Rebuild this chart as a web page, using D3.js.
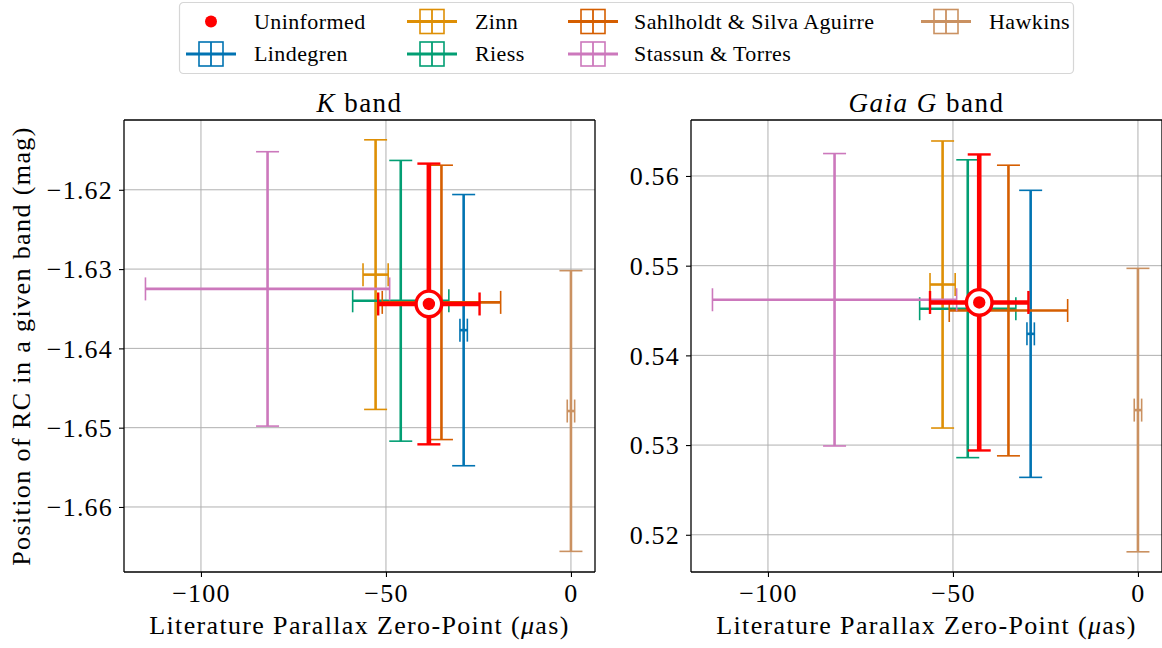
<!DOCTYPE html>
<html><head><meta charset="utf-8">
<script src="https://cdn.jsdelivr.net/npm/d3@7"></script>
<style>
body{margin:0;background:#fff}
svg{display:block}
text{font-family:"Liberation Serif","DejaVu Serif",serif;fill:#000}
</style>
</head><body>
<svg id="chart" width="1162" height="648"></svg>
<script>
// ---------- data ----------
const sources = ["Lindegren", "Zinn", "Riess", "Sahlholdt & Silva Aguirre", "Stassun & Torres", "Hawkins"];
const sourceColors = ["#0173B2", "#DE8F05", "#029E73", "#D55E00", "#CC78BC", "#CA9161"];
const zeroPoint = [-29, -52.8, -46, -35, -82, 0];
const zeroPointErr = [1, 3.4, 13, 16, 33, 1];
const kBand = [-1.6377, -1.6307, -1.6340, -1.6342, -1.6325, -1.6479];
const kBandErr = [0.0171, 0.0170, 0.0177, 0.0173, 0.0173, 0.0177];
const gBand = [0.5424, 0.5479, 0.5452, 0.5450, 0.5462, 0.5339];
const gBandErr = [0.0160, 0.0160, 0.0166, 0.0162, 0.0163, 0.0158];
const uninformedLabel = "Uninformed";
const uninformedX = [-38.4, -42.9];
const uninformedXErr = [13.7, 13.3];
const uninformedY = [-1.6344, 0.5459];
const uninformedYErr = [0.0177, 0.0165];
const xTicks = [-100, -50, 0];
const kTicks = [-1.62, -1.63, -1.64, -1.65, -1.66];
const gTicks = [0.52, 0.53, 0.54, 0.55, 0.56];

// ---------- drawing ----------
const svg = d3.select("#chart");
const FONT = '"Liberation Serif","DejaVu Serif",serif';
const FS = 26;
const uninformedColor = "#FF0000";

function errorbar(g, x, y, cx, cy, xe, ye, color, lw, capw) {
  const cap = 11.5;
  const e = g.append("g");
  e.append("line").attr("x1", x(cx)).attr("x2", x(cx)).attr("y1", y(cy - ye)).attr("y2", y(cy + ye))
    .attr("stroke", color).attr("stroke-width", lw);
  [cy - ye, cy + ye].forEach(v => e.append("line")
    .attr("x1", x(cx) - cap).attr("x2", x(cx) + cap).attr("y1", y(v)).attr("y2", y(v))
    .attr("stroke", color).attr("stroke-width", capw));
  e.append("line").attr("x1", x(cx - xe)).attr("x2", x(cx + xe)).attr("y1", y(cy)).attr("y2", y(cy))
    .attr("stroke", color).attr("stroke-width", lw);
  [cx - xe, cx + xe].forEach(v => e.append("line")
    .attr("x1", x(v)).attr("x2", x(v)).attr("y1", y(cy) - cap).attr("y2", y(cy) + cap)
    .attr("stroke", color).attr("stroke-width", capw));
}

function panel(id, left, yDomain, yTicks, yVals, yErrs, pIdx, titleParts) {
  const top = 120, bottom = 572, W = 471;
  const x = d3.scaleLinear().domain([-120.8, 6.5]).range([left, left + W]);
  const y = d3.scaleLinear().domain(yDomain).range([bottom, top]);
  const g = svg.append("g");
  g.append("clipPath").attr("id", "clip" + id)
    .append("rect").attr("x", left).attr("y", top).attr("width", W).attr("height", bottom - top);

  const grid = g.append("g");
  xTicks.forEach(t => grid.append("line").attr("x1", x(t)).attr("x2", x(t)).attr("y1", top).attr("y2", bottom)
    .attr("stroke", "#b0b0b0").attr("stroke-width", 1));
  yTicks.forEach(t => grid.append("line").attr("x1", left).attr("x2", left + W).attr("y1", y(t)).attr("y2", y(t))
    .attr("stroke", "#b0b0b0").attr("stroke-width", 1));

  const plot = g.append("g").attr("clip-path", `url(#clip${id})`);
  sources.forEach((s, i) => errorbar(plot, x, y, zeroPoint[i], yVals[i], zeroPointErr[i], yErrs[i], sourceColors[i], 2.6, 1.6));
  errorbar(plot, x, y, uninformedX[pIdx], uninformedY[pIdx], uninformedXErr[pIdx], uninformedYErr[pIdx], uninformedColor, 4.6, 2.4);
  plot.append("circle").attr("cx", x(uninformedX[pIdx])).attr("cy", y(uninformedY[pIdx])).attr("r", 12.8)
    .attr("fill", "#fff").attr("stroke", uninformedColor).attr("stroke-width", 3.4);
  plot.append("circle").attr("cx", x(uninformedX[pIdx])).attr("cy", y(uninformedY[pIdx])).attr("r", 6.2)
    .attr("fill", uninformedColor);

  const xAxis = d3.axisBottom(x).tickValues(xTicks).tickSize(5).tickPadding(5).tickFormat(d3.format("d"));
  const ax = g.append("g").attr("transform", `translate(0,${bottom})`).call(xAxis);
  const yAxis = d3.axisLeft(y).tickValues(yTicks).tickSize(5).tickPadding(6).tickFormat(d3.format(".2f"));
  const ay = g.append("g").attr("transform", `translate(${left},0)`).call(yAxis);
  [ax, ay].forEach(a => {
    a.attr("font-family", null).style("font-family", FONT);
    a.select(".domain").remove();
    a.selectAll(".tick line").attr("stroke", "#000").attr("stroke-width", 1.1);
    a.selectAll(".tick text").attr("font-size", FS).style("font-family", FONT)
      .style("letter-spacing", "1.2px").attr("fill", "#000");
  });
  ax.selectAll(".tick text").attr("dy", "0.75em");
  ay.selectAll(".tick text").attr("dy", "0.34em");

  const sp = g.append("g").attr("stroke", "#000").attr("stroke-width", 1.3);
  sp.append("line").attr("x1", left).attr("x2", left + W).attr("y1", top).attr("y2", top);
  sp.append("line").attr("x1", left).attr("x2", left + W).attr("y1", bottom).attr("y2", bottom);
  sp.append("line").attr("x1", left).attr("x2", left).attr("y1", top).attr("y2", bottom);
  sp.append("line").attr("x1", left + W).attr("x2", left + W).attr("y1", top).attr("y2", bottom);

  const cx = left + W / 2;
  const t = g.append("text").attr("x", cx).attr("y", 112).attr("text-anchor", "middle")
    .attr("font-size", FS + 1).style("letter-spacing", "1.5px");
  titleParts.forEach(p => t.append("tspan").attr("font-style", p[1] ? "italic" : "normal").text(p[0]));

  const xl = g.append("text").attr("x", cx).attr("y", 634).attr("text-anchor", "middle")
    .attr("font-size", FS).style("letter-spacing", "1.35px");
  xl.append("tspan").text("Literature Parallax Zero-Point (");
  xl.append("tspan").attr("font-style", "italic").text("μ");
  xl.append("tspan").text("as)");
}

panel("K", 124, [-1.6682, -1.6112], kTicks, kBand, kBandErr, 0, [["K", true], [" band", false]]);
panel("G", 691, [0.51585, 0.56624], gTicks, gBand, gBandErr, 1, [["Gaia G", true], [" band", false]]);

svg.append("text").attr("transform", "translate(30,346) rotate(-90)").attr("text-anchor", "middle")
  .attr("font-size", FS).style("letter-spacing", "1.4px").text("Position of RC in a given band (mag)");

// ---------- legend ----------
const leg = svg.append("g");
leg.append("rect").attr("x", 179.5).attr("y", 2.5).attr("width", 894).attr("height", 71).attr("rx", 4)
  .attr("fill", "#fff").attr("stroke", "#d6d6d6").attr("stroke-width", 1.2);
const legItems = [uninformedLabel].concat(sources);
const legColors = [uninformedColor].concat(sourceColors);
const colHandle = [211, 432, 593, 946];
const colText = [254, 475, 634, 989];
const rowY = [21.5, 54];
legItems.forEach((name, k) => {
  const col = Math.floor(k / 2), row = k % 2;
  const hx = colHandle[col], hy = rowY[row], c = legColors[k];
  if (k === 0) {
    leg.append("circle").attr("cx", hx).attr("cy", hy).attr("r", 6).attr("fill", c);
  } else {
    const h = leg.append("g").attr("stroke", c);
    h.append("line").attr("x1", hx - 25).attr("x2", hx + 25).attr("y1", hy).attr("y2", hy).attr("stroke-width", 3);
    h.append("rect").attr("x", hx - 12).attr("y", hy - 12).attr("width", 24).attr("height", 24)
      .attr("fill", "none").attr("stroke-width", 1.6);
    h.append("line").attr("x1", hx).attr("x2", hx).attr("y1", hy - 12).attr("y2", hy + 12).attr("stroke-width", 1.8);
  }
  leg.append("text").attr("x", colText[col]).attr("y", hy).attr("dy", "0.34em")
    .attr("font-size", 22).style("letter-spacing", "0.4px").text(name);
});
</script>
</body></html>
